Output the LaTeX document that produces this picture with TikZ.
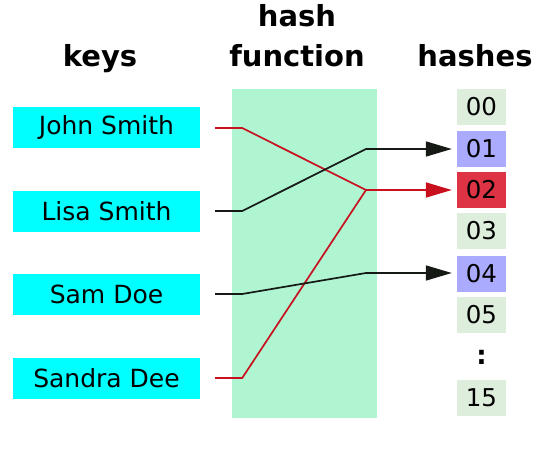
\documentclass[tikz,border=0pt]{standalone}
\usepackage{fontspec}
\setmainfont{DejaVu Sans}
\usetikzlibrary{arrows.meta}
\definecolor{keycyan}{HTML}{00FFFF}
\definecolor{funcgreen}{HTML}{B0F5D2}
\definecolor{slotgrey}{HTML}{DEEEDC}
\definecolor{slotblue}{HTML}{AAAAFF}
\definecolor{slotred}{HTML}{DD3344}
\definecolor{linkred}{HTML}{C8101E}
\definecolor{linkblack}{HTML}{151A15}
\begin{document}
\begin{tikzpicture}[x=1pt,y=-1pt,
  keybox/.style={fill=keycyan,minimum width=187pt,minimum height=41pt,inner sep=0pt,
    font=\fontsize{25}{28}\selectfont},
  slot/.style={fill=#1,minimum width=49pt,minimum height=36pt,inner sep=0pt,
    font=\fontsize{24.5}{28}\selectfont},
  title/.style={font=\fontsize{29}{40}\selectfont\bfseries,align=center,anchor=base},
  link/.style={line width=1.7pt},
  hit/.style={-{Triangle[length=26pt,width=15pt]},shorten >=5pt}]
  \useasboundingbox (0,0) rectangle (539,460);
  % hash function band
  \fill[funcgreen] (232,89) rectangle (377,418);
  \node[title] (keystitle) at (100,67) {keys};
  \node[title] (functitle) at (297,67) {hash\\function};
  \node[title] (hashtitle) at (475,67) {hashes};
  % keys
  \node[keybox] (john) at (106.5,128) {John Smith};
  \node[keybox] (lisa) at (106.5,211) {Lisa Smith};
  \node[keybox] (sam) at (106.5,294) {Sam Doe};
  \node[keybox] (sandra) at (106.5,378) {Sandra Dee};
  % buckets
  \node[slot=slotgrey] (h00) at (481.5,107) {00};
  \node[slot=slotblue] (h01) at (481.5,149) {01};
  \node[slot=slotred] (h02) at (481.5,190) {02};
  \node[slot=slotgrey] (h03) at (481.5,231) {03};
  \node[slot=slotblue] (h04) at (481.5,274) {04};
  \node[slot=slotgrey] (h05) at (481.5,315) {05};
  \node[font=\fontsize{26}{28}\selectfont\bfseries] (hdots) at (481.5,357) {:};
  \node[slot=slotgrey] (h15) at (481.5,398) {15};
  % where the links meet
  \coordinate (m01) at (366,149);
  \coordinate (m02) at (366,190);
  \coordinate (m04) at (366,273);
  % links
  \draw[link,linkred] ([xshift=15pt]john.east) -- ++(27,0) -- (m02);
  \draw[link,linkred] ([xshift=15pt]sandra.east) -- ++(27,0) -- (m02);
  \draw[link,linkred,hit] (m02) -- (h02.west);
  \draw[link,linkblack,hit] ([xshift=15pt]lisa.east) -- ++(27,0) -- (m01) -- (h01.west);
  \draw[link,linkblack,hit] ([xshift=15pt]sam.east) -- ++(27,0) -- (m04) -- (h04.west |- m04);
\end{tikzpicture}
\end{document}
